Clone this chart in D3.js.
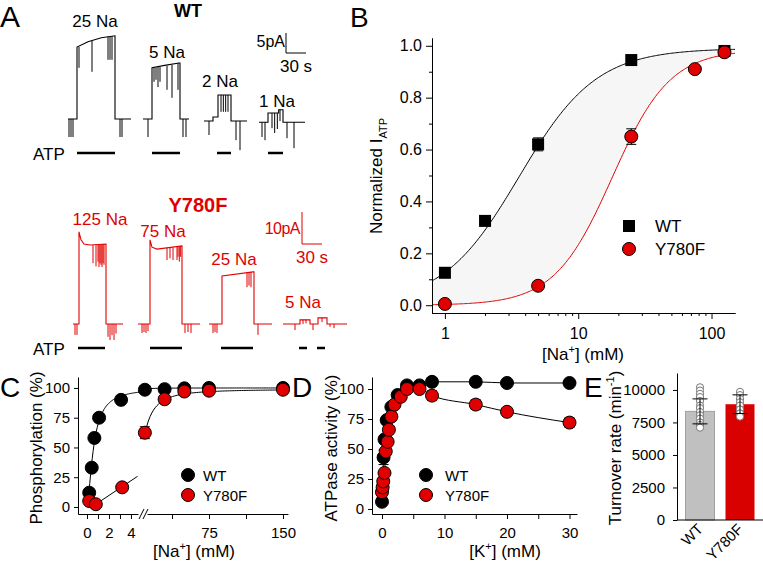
<!DOCTYPE html>
<html>
<head>
<meta charset="utf-8">
<script src="https://cdn.jsdelivr.net/npm/d3@7"></script>
<style>
body { margin: 0; background: #fff; }
text { font-family: "Liberation Sans", Arial, sans-serif; }
</style>
</head>
<body>
<script>
var width = 763,
    height = 569;
var red = "#e00000";

// ---- panel A: current traces, points are [time (s), current (pA)]
var wtLabels = ["25 Na", "5 Na", "2 Na", "1 Na"];
var wtBody = [
  [[0, 0], [13.5, 0], [13.5, 18], [30, 19.3], [50, 20.3], [70.5, 20.8], [70.5, 0], [94.5, 0]],
  [[112.5, 0], [126, 0], [126, 12.8], [145, 13.4], [166.5, 14], [168, 14], [168, 0], [181.5, 0]],
  [[204, -0.5], [217.5, -0.5], [217.5, 0.5], [225, 0.5], [225, 6], [244.5, 6], [244.5, -0.5], [268.5, -0.5]],
  [[286.5, -0.8], [300, -0.8], [300, 1.5], [316, 1.5], [316, 2.3], [322.5, 2.3], [322.5, -0.8], [355.5, -0.8]]
];
// spikes: [time, from pA, to pA]
var wtSpikes = [
  [[1.5, 0, -4.5], [4.5, 0, -4.5], [7.5, 0, -4.5], [16.5, 18, 12.8], [36, 19.5, 11.8], [60, 20.6, 14.8], [63, 20.7, 14.8], [66, 20.7, 14.8], [78, 0, -4.5], [81, 0, -4.5]],
  [[120, 0, -4.5], [129, 12.9, 9.3], [132, 12.9, 9.8], [135, 13, 8], [138, 13, 9.3], [148.5, 13.3, 7.3], [156, 13.5, 5.3], [165, 14, 7.3], [172.5, 0, -4.5], [177, 0, -4.5]],
  [[211.5, -0.5, -4], [229.5, 6, 1.8], [233, 6, 1.8], [236.5, 6, 1.8], [240, 6, 1.8], [252, -0.5, -5.3], [258, -0.5, -7.8]],
  [[291, -0.8, -4.5], [295.5, -0.8, -5.3], [306, 1.5, -2.3], [310, 1.5, -3.5], [314, 1.5, -2.5], [318, 2.3, -0.5], [328.5, -0.8, -4.8], [339, -0.8, -7.3]]
];
var wtAtp = [[13.5, 70.5], [126, 168], [223.5, 244.5], [300, 322.5]];

var y780Labels = ["125 Na", "75 Na", "25 Na", "5 Na"];
var y780Body = [
  [[7.5, 0], [16.5, 0], [16.5, 28.8], [19.5, 26.3], [24, 25], [33, 24.7], [57, 25], [57, 0], [82.5, 0]],
  [[105, 0], [123, 0], [123, 26.3], [126, 24], [133.5, 23.4], [171, 24.4], [171, 0], [198, 0]],
  [[211.5, 0], [231, 0], [231, 15], [277.5, 16.3], [279, 16.3], [279, 0], [306, 0]],
  [[322.5, 0], [348, 0], [348, 1.3], [363, 1.3], [363, 0], [375, 0], [375, 1.9], [388.5, 1.9], [388.5, 0], [418.5, 0]]
];
var y780Spikes = [
  [[10.5, 0, -3.4], [13.5, 0, -3.4], [37.5, 24.7, 19], [42, 24.8, 18], [45, 24.8, 19.5], [46.5, 24.8, 17.8], [48, 24.9, 19], [49.5, 24.9, 18.5], [51, 24.9, 17.8], [52.5, 25, 19], [54, 25, 18.5], [60, 0, -4], [63, 0, -5], [66, 0, -3.5], [69, 0, -5], [72, 0, -3]],
  [[111, 0, -2.8], [114, 0, -2.5], [117, 0, -2.8], [120, 0, -2.2], [148.5, 23.8, 20], [153, 23.9, 20.5], [157.5, 24, 20], [163.5, 24.1, 20], [165, 24.2, 21], [167, 24.3, 19.5], [169, 24.4, 21], [175.5, 0, -2.8], [180, 0, -2.5], [184.5, 0, -2.8]],
  [[217.5, 0, -2.8], [220.5, 0, -2.5], [223.5, 0, -2.8], [268.5, 16.1, 11.5], [271.5, 16.2, 12], [274.5, 16.2, 11.5], [285, 0, -3.4]],
  [[340.5, 0, -1.9], [352.5, 1.3, 0], [357, 1.3, 0.2], [367.5, 0, -1.9], [381, 1.9, 0.6], [393, 0, -0.9], [399, 0, -1.3]]
];
var y780Atp = [[15, 55.5], [123, 171], [229.5, 277.5], [346.5, 358.5], [373.5, 385.5]];

// ---- panel B: normalized I_ATP vs [Na+]
var naB_wt = [1, 2, 5, 25, 125];
var iB_wt = [0.125, 0.325, 0.62, 0.945, 0.98];
var errB_wt = [0.01, 0.01, 0.025, 0.01, 0.01];
var naB_y = [1, 5, 25, 75, 125];
var iB_y = [0.005, 0.075, 0.65, 0.91, 0.975];
var errB_y = [0.005, 0.01, 0.03, 0.01, 0.01];
var fitB_wt = {vmax: 0.99, k: 3.6, n: 1.5};
var fitB_y = {vmax: 0.985, k: 18, n: 2};

// ---- panel C: phosphorylation vs [Na+]
var naC_wt = [0.2, 0.43, 0.67, 1.1, 3.1, 10, 30, 50, 75, 150];
var phC_wt = [12, 33, 58, 75, 90, 98.5, 99, 99.7, 100, 100];
var naC_y = [0.2, 0.8, 3.2, 10, 30, 50, 75, 150];
var phC_y = [5, 2.3, 16.5, 62.4, 90.5, 97, 97.7, 98.5];
var errC_y = [0, 0, 0, 5, 1.5, 3, 1.5, 1];
var fitC_wt = {vmax: 100, k: 0.6, n: 1.6};
var fitC_y = {vmax: 99, k: 7.45, n: 1.66};
var linC_y = {slope: 6.25, icpt: -3};

// ---- panel D: ATPase activity vs [K+]
var kD_wt = [0, 0.25, 0.4, 0.75, 1.5, 2.5, 4, 6, 8, 15, 20, 30];
var acD_wt = [6, 43, 58, 74, 85, 95, 103, 103, 106, 106, 105, 105];
var errD_wt = [0, 6, 0, 0, 0, 0, 0, 0, 0, 0, 0, 0];
var kD_y = [0, 0.1, 0.2, 0.4, 0.6, 0.9, 1.1, 1.5, 2, 3, 4, 6, 8, 15, 20, 30];
var acD_y = [14, 18, 23, 30, 48, 56, 66, 77, 87, 93.5, 100, 100, 94.5, 87, 81, 72];
var errD_y = [0, 0, 0, 0, 0, 0, 0, 0, 0, 0, 0, 0, 4, 4, 2, 4];

// ---- panel E: turnover rate
var groupsE = ["WT", "Y780F"];
var meanE = [8350, 8900];
var sdE = [960, 720];
var dotsE = [
  [10200, 9950, 9700, 9450, 9150, 8800, 8600, 8300, 8050, 7800, 7500, 7300, 7100],
  [9850, 9600, 9300, 9050, 8800, 8500, 8200, 7950]
];

var svg = d3.select("body").append("svg")
    .attr("width", width)
    .attr("height", height)
    .style("background", "#fff");

function hill(p, x) {
  var r = Math.pow(x / p.k, p.n);
  return p.vmax * r / (1 + r);
}

function text(x, y, s, size, anchor, color, weight) {
  return svg.append("text")
      .attr("x", x).attr("y", y)
      .attr("font-size", size)
      .attr("text-anchor", anchor || "start")
      .attr("fill", color || "#000")
      .attr("font-weight", weight || "normal")
      .text(s);
}

function styleAxis(g, size) {
  g.attr("font-size", size).attr("font-family", '"Liberation Sans", Arial, sans-serif');
  g.selectAll("text").attr("fill", "#000");
  g.selectAll("line, path").attr("stroke", "#000");
}

function markers(g, xs, ys, errs, xf, yf, shape, fill, size) {
  xs.forEach(function (x, i) {
    if (errs && errs[i] > 0) {
      var cx = xf(x);
      g.append("line").attr("x1", cx).attr("x2", cx)
          .attr("y1", yf(ys[i] - errs[i])).attr("y2", yf(ys[i] + errs[i]))
          .attr("stroke", "#000");
      [ys[i] - errs[i], ys[i] + errs[i]].forEach(function (v) {
        g.append("line").attr("x1", cx - 5).attr("x2", cx + 5)
            .attr("y1", yf(v)).attr("y2", yf(v)).attr("stroke", "#000");
      });
    }
  });
  xs.forEach(function (x, i) {
    if (shape === "square") {
      g.append("rect").attr("x", xf(x) - size).attr("y", yf(ys[i]) - size)
          .attr("width", 2 * size).attr("height", 2 * size).attr("fill", fill);
    } else {
      g.append("circle").attr("cx", xf(x)).attr("cy", yf(ys[i])).attr("r", size)
          .attr("fill", fill).attr("stroke", "#000").attr("stroke-width", 1);
    }
  });
}

/* ================= Panel A ================= */
var xA = d3.scaleLinear().domain([0, 400]).range([68, 334.67]);
var yWT = d3.scaleLinear().domain([0, 5]).range([119, 99]);
var yY = d3.scaleLinear().domain([0, 10]).range([324, 292]);
var gA = svg.append("g");

function drawTraces(bodies, spikes, ys, color) {
  var line = d3.line().x(function (d) { return xA(d[0]); }).y(function (d) { return ys(d[1]); });
  bodies.forEach(function (b, i) {
    gA.append("path").attr("d", line(b)).attr("fill", "none")
        .attr("stroke", color).attr("stroke-width", 1.1);
    spikes[i].forEach(function (s) {
      gA.append("line").attr("x1", xA(s[0])).attr("x2", xA(s[0]))
          .attr("y1", ys(s[1])).attr("y2", ys(s[2]))
          .attr("stroke", color).attr("stroke-width", 1);
    });
  });
}
drawTraces(wtBody, wtSpikes, yWT, "#000");
drawTraces(y780Body, y780Spikes, yY, red);

wtAtp.forEach(function (a) {
  gA.append("line").attr("x1", xA(a[0])).attr("x2", xA(a[1]))
      .attr("y1", 153).attr("y2", 153).attr("stroke", "#000").attr("stroke-width", 2.5);
});
y780Atp.forEach(function (a) {
  gA.append("line").attr("x1", xA(a[0])).attr("x2", xA(a[1]))
      .attr("y1", 348).attr("y2", 348).attr("stroke", "#000").attr("stroke-width", 2.5);
});

// scale bars (5 pA / 30 s and 10 pA / 30 s)
gA.append("path").attr("fill", "none").attr("stroke", "#000").attr("stroke-width", 1)
    .attr("d", "M" + xA(327) + "," + yWT(21.5) + "V" + yWT(16.5) + "H" + xA(357));
gA.append("path").attr("fill", "none").attr("stroke", red).attr("stroke-width", 1)
    .attr("d", "M" + xA(351) + "," + yY(35) + "V" + yY(25) + "H" + xA(381));

text(0, 27, "A", 30);
text(188, 17, "WT", 18, "middle", "#000", "bold");
text(95, 27, wtLabels[0], 17, "middle");
text(167, 58, wtLabels[1], 17, "middle");
text(220, 87, wtLabels[2], 17, "middle");
text(277, 107, wtLabels[3], 17, "middle");
text(285, 47, "5pA", 16, "end");
text(296, 72, "30 s", 17, "middle");
text(33, 160, "ATP", 17);

text(198, 212, "Y780F", 20, "middle", red, "bold");
text(100, 225, y780Labels[0], 17, "middle", red);
text(163, 237, y780Labels[1], 17, "middle", red);
text(234, 265, y780Labels[2], 17, "middle", red);
text(303, 308, y780Labels[3], 17, "middle", red);
text(300, 234, "10pA", 16, "end", red).attr("letter-spacing", -0.5);
text(312, 263, "30 s", 17, "middle", red);
text(33, 355, "ATP", 17);

/* ================= Panel B ================= */
var xB = d3.scaleLog().domain([0.8, 150]).range([432, 735]);
var yB = d3.scaleLinear().domain([-0.03, 1.03]).range([313, 38]);
var gB = svg.append("g");
var xsB = d3.range(0, 241).map(function (i) { return 0.8 * Math.pow(150 / 0.8, i / 240); });

gB.append("path")
    .attr("d", d3.area()
        .x(function (d) { return xB(d); })
        .y0(function (d) { return yB(hill(fitB_y, d)); })
        .y1(function (d) { return yB(hill(fitB_wt, d)); })(xsB))
    .attr("fill", "#f6f6f6");

var lineB = function (p) {
  return d3.line().x(function (d) { return xB(d); }).y(function (d) { return yB(hill(p, d)); })(xsB);
};
gB.append("path").attr("d", lineB(fitB_wt)).attr("fill", "none").attr("stroke", "#000").attr("stroke-width", 1);
gB.append("path").attr("d", lineB(fitB_y)).attr("fill", "none").attr("stroke", red).attr("stroke-width", 1);

var axB = gB.append("g").attr("transform", "translate(432,0)")
    .call(d3.axisLeft(yB).tickValues([0, 0.2, 0.4, 0.6, 0.8, 1]).tickFormat(d3.format(".1f"))
        .tickSize(6).tickSizeOuter(0).tickPadding(4));
styleAxis(axB, 16);
var axBm = gB.append("g").attr("transform", "translate(432,0)")
    .call(d3.axisLeft(yB).tickValues([0.1, 0.3, 0.5, 0.7, 0.9]).tickFormat("").tickSize(3).tickSizeOuter(0));
styleAxis(axBm, 16);
var bxB = gB.append("g").attr("transform", "translate(0,313)")
    .call(d3.axisBottom(xB).tickValues([1, 10, 100]).tickFormat(d3.format("d"))
        .tickSize(6).tickSizeOuter(0).tickPadding(9));
styleAxis(bxB, 16);
var bxBm = gB.append("g").attr("transform", "translate(0,313)")
    .call(d3.axisBottom(xB).tickValues([2, 3, 4, 5, 6, 7, 8, 9, 20, 30, 40, 50, 60, 70, 80, 90])
        .tickFormat("").tickSize(3).tickSizeOuter(0));
styleAxis(bxBm, 16);

markers(gB, naB_wt, iB_wt, errB_wt, xB, yB, "square", "#000", 6);
markers(gB, naB_y, iB_y, errB_y, xB, yB, "circle", red, 6.5);

text(350, 27, "B", 28);
var ylB = svg.append("text").attr("transform", "translate(382,176) rotate(-90)")
    .attr("text-anchor", "middle").attr("font-size", 17);
ylB.append("tspan").text("Normalized I");
ylB.append("tspan").attr("dy", 5).attr("font-size", 11).text("ATP");
var xlB = svg.append("text").attr("x", 583).attr("y", 360).attr("text-anchor", "middle").attr("font-size", 17);
xlB.append("tspan").text("[Na");
xlB.append("tspan").attr("dy", -7).attr("font-size", 11).text("+");
xlB.append("tspan").attr("dy", 7).text("] (mM)");

gB.append("rect").attr("x", 623).attr("y", 220).attr("width", 12).attr("height", 12).attr("fill", "#000");
gB.append("circle").attr("cx", 629).attr("cy", 249).attr("r", 6.5).attr("fill", red).attr("stroke", "#000");
text(655, 232, "WT", 17);
text(655, 255, "Y780F", 17);

/* ================= Panel C ================= */
var yC = d3.scaleLinear().domain([-5.9, 109.2]).range([514, 377]);
var xCL = d3.scaleLinear().domain([-0.82, 4.64]).range([78, 138]);
var xCR = d3.scaleLinear().domain([0, 150]).range([135, 283]);
var xC = function (v) { return v <= 4.6 ? xCL(v) : xCR(v); };
var gC = svg.append("g");

var axC = gC.append("g").attr("transform", "translate(78,0)")
    .call(d3.axisLeft(yC).tickValues([0, 25, 50, 75, 100]).tickSize(4).tickSizeOuter(0).tickPadding(4));
styleAxis(axC, 15);
var bxCL = gC.append("g").attr("transform", "translate(0,514)")
    .call(d3.axisBottom(xCL).tickValues([0, 1, 2, 3, 4])
        .tickFormat(function (d) { return d % 2 === 0 ? d : ""; })
        .tickSize(5).tickSizeOuter(0).tickPadding(8));
styleAxis(bxCL, 15);
var xCRax = d3.scaleLinear().domain([12.2, 155]).range([xCR(12.2), xCR(155)]);
var bxCR = gC.append("g").attr("transform", "translate(0,514)")
    .call(d3.axisBottom(xCRax).tickValues([37.5, 75, 112.5, 150])
        .tickFormat(function (d) { return d % 75 === 0 ? d : ""; })
        .tickSize(5).tickSizeOuter(0).tickPadding(8));
styleAxis(bxCR, 15);
[[139, 144], [143, 148]].forEach(function (b) {
  gC.append("line").attr("x1", b[0]).attr("y1", 519).attr("x2", b[1]).attr("y2", 509)
      .attr("stroke", "#000");
});

// WT fit across the axis break
var xsCL = d3.range(0, 61).map(function (i) { return 0.1 + (4.6 - 0.1) * i / 60; });
var xsCR = d3.range(0, 81).map(function (i) { return 4.6 + (150 - 4.6) * i / 80; });
var ptsWT = xsCL.map(function (v) { return [xCL(v), yC(hill(fitC_wt, v))]; })
    .concat(xsCR.map(function (v) { return [xCR(v), yC(hill(fitC_wt, v))]; }));
gC.append("path").attr("d", d3.line()(ptsWT)).attr("fill", "none").attr("stroke", "#000");
var xsCY = d3.range(0, 81).map(function (i) { return 10 + 140 * i / 80; });
gC.append("path").attr("d", d3.line()(xsCY.map(function (v) { return [xCR(v), yC(hill(fitC_y, v))]; })))
    .attr("fill", "none").attr("stroke", "#000");
// Y780F low-[Na+] linear fit
var linPts = [[naC_y[0], phC_y[0]], [naC_y[1], phC_y[1]],
  [4.6, linC_y.slope * 4.6 + linC_y.icpt]];
gC.append("path").attr("d", d3.line()(linPts.map(function (d) { return [xCL(d[0]), yC(d[1])]; })))
    .attr("fill", "none").attr("stroke", "#000");

markers(gC, naC_wt, phC_wt, null, xC, yC, "circle", "#000", 6.5);
markers(gC, naC_y, phC_y, errC_y, xC, yC, "circle", red, 6.5);

text(0, 397, "C", 28);
text(0, 0, "Phosphorylation (%)", 17, "middle").attr("transform", "translate(42,448) rotate(-90)");
var xlC = svg.append("text").attr("x", 194).attr("y", 557).attr("text-anchor", "middle").attr("font-size", 17);
xlC.append("tspan").text("[Na");
xlC.append("tspan").attr("dy", -7).attr("font-size", 11).text("+");
xlC.append("tspan").attr("dy", 7).text("] (mM)");
gC.append("circle").attr("cx", 188).attr("cy", 475).attr("r", 6.5).attr("fill", "#000").attr("stroke", "#000");
gC.append("circle").attr("cx", 188).attr("cy", 495).attr("r", 6.5).attr("fill", red).attr("stroke", "#000");
text(203, 481, "WT", 15);
text(203, 501, "Y780F", 15);

/* ================= Panel D ================= */
var xD = d3.scaleLinear().domain([-1.6, 31.2]).range([372, 577]);
var yD = d3.scaleLinear().domain([-4.2, 110]).range([514, 377]);
var gD = svg.append("g");

var axD = gD.append("g").attr("transform", "translate(372,0)")
    .call(d3.axisLeft(yD).tickValues([0, 25, 50, 75, 100]).tickSize(4).tickSizeOuter(0).tickPadding(4));
styleAxis(axD, 15);
var bxD = gD.append("g").attr("transform", "translate(0,514)")
    .call(d3.axisBottom(xD).tickValues([0, 5, 10, 15, 20, 25, 30])
        .tickFormat(function (d) { return d % 10 === 0 ? d : ""; })
        .tickSize(5).tickSizeOuter(0).tickPadding(8));
styleAxis(bxD, 15);

var lineD = d3.line().curve(d3.curveMonotoneX)
    .x(function (d) { return xD(d[0]); }).y(function (d) { return yD(d[1]); });
gD.append("path").attr("d", lineD(kD_wt.map(function (k, i) { return [k, acD_wt[i]]; })))
    .attr("fill", "none").attr("stroke", "#000");
gD.append("path").attr("d", lineD(kD_y.map(function (k, i) { return [k, acD_y[i]]; })))
    .attr("fill", "none").attr("stroke", "#000");
markers(gD, kD_wt, acD_wt, errD_wt, xD, yD, "circle", "#000", 6.5);
markers(gD, kD_y, acD_y, errD_y, xD, yD, "circle", red, 6.5);

text(292, 397, "D", 28);
text(0, 0, "ATPase activity (%)", 17, "middle").attr("transform", "translate(337,448) rotate(-90)");
var xlD = svg.append("text").attr("x", 505).attr("y", 557).attr("text-anchor", "middle").attr("font-size", 17);
xlD.append("tspan").text("[K");
xlD.append("tspan").attr("dy", -7).attr("font-size", 11).text("+");
xlD.append("tspan").attr("dy", 7).text("] (mM)");
gD.append("circle").attr("cx", 426).attr("cy", 475).attr("r", 6.5).attr("fill", "#000").attr("stroke", "#000");
gD.append("circle").attr("cx", 426).attr("cy", 495).attr("r", 6.5).attr("fill", red).attr("stroke", "#000");
text(445, 481, "WT", 15);
text(445, 501, "Y780F", 15);

/* ================= Panel E ================= */
var yE = d3.scaleLinear().domain([0, 11300]).range([520, 373]);
var xE = d3.scaleBand().domain(groupsE).range([677, 763]).paddingInner(0.275).paddingOuter(0.2125);
var gE = svg.append("g");

gE.selectAll("rect.bar").data(groupsE).enter().append("rect")
    .attr("class", "bar")
    .attr("x", function (d) { return xE(d); })
    .attr("y", function (d, i) { return yE(meanE[i]); })
    .attr("width", xE.bandwidth())
    .attr("height", function (d, i) { return yE(0) - yE(meanE[i]); })
    .attr("fill", function (d, i) { return i === 0 ? "#c0c0c0" : "#d90000"; })
    .attr("stroke", function (d, i) { return i === 0 ? "#a0a0a0" : "none"; });

groupsE.forEach(function (g, i) {
  var cx = xE(g) + xE.bandwidth() / 2;
  dotsE[i].forEach(function (v) {
    gE.append("circle").attr("cx", cx).attr("cy", yE(v)).attr("r", 3.6)
        .attr("fill", "#fff").attr("stroke", "#777").attr("stroke-width", 1);
  });
  gE.append("line").attr("x1", cx).attr("x2", cx)
      .attr("y1", yE(meanE[i] - sdE[i])).attr("y2", yE(meanE[i] + sdE[i])).attr("stroke", "#000");
  [meanE[i] - sdE[i], meanE[i] + sdE[i]].forEach(function (v) {
    gE.append("line").attr("x1", cx - 7.5).attr("x2", cx + 7.5)
        .attr("y1", yE(v)).attr("y2", yE(v)).attr("stroke", "#000");
  });
});

var axE = gE.append("g").attr("transform", "translate(677,0)")
    .call(d3.axisLeft(yE).tickValues([0, 2500, 5000, 7500, 10000]).tickFormat(d3.format("d"))
        .tickSize(4).tickSizeOuter(0).tickPadding(8));
styleAxis(axE, 15);
gE.append("line").attr("x1", 677).attr("x2", 763).attr("y1", 520).attr("y2", 520).attr("stroke", "#000");
groupsE.forEach(function (g) {
  var cx = xE(g) + xE.bandwidth() / 2;
  text(0, 0, g, 15, "end").attr("transform", "translate(" + (cx + 4) + ",530) rotate(-45)");
});

text(584, 397, "E", 28);
var ylE = svg.append("text").attr("transform", "translate(621,448) rotate(-90)")
    .attr("text-anchor", "middle").attr("font-size", 17);
ylE.append("tspan").text("Turnover rate (min");
ylE.append("tspan").attr("dy", -7).attr("font-size", 11).text("-1");
ylE.append("tspan").attr("dy", 7).text(")");
</script>
</body>
</html>
